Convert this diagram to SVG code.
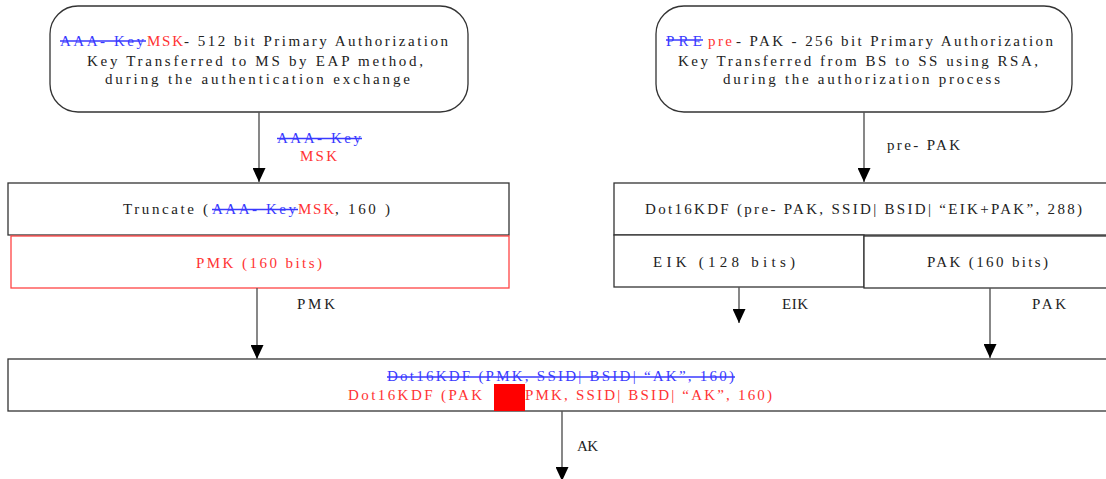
<svg xmlns="http://www.w3.org/2000/svg" width="1106" height="479" viewBox="0 0 1106 479">
  <style>
    text { font-family: "Liberation Serif", "Times New Roman", serif; font-size: 15px; }
    .k { fill: #222; }
    .r { fill: #ff3333; }
    .b { fill: #3a3aff; }
    .strike { stroke: #3a3aff; stroke-width: 1.3; }
    .box { fill: #fff; stroke: #333; stroke-width: 1.3; }
    .rbox { fill: #fff; stroke: #ff4444; stroke-width: 1.3; }
    .conn { fill: none; stroke: #555; stroke-width: 1.4; }
  </style>
  <defs>
    <marker id="arrow" markerUnits="userSpaceOnUse" markerWidth="16" markerHeight="13" refX="14" refY="6.5" orient="auto">
      <path d="M0,0 L14,6.5 L0,13 Z" fill="#000"/>
    </marker>
  </defs>
  <rect width="1106" height="479" fill="#fff"/>

  <!-- source key: MSK -->
  <g id="msk-source">
    <rect class="box" x="50" y="6" width="418" height="106" rx="28" ry="28"/>
    <text class="b" x="60" y="46" textLength="84" lengthAdjust="spacing">AAA- Key</text>
    <line class="strike" x1="60" y1="41" x2="146" y2="41"/>
    <text class="r" x="147" y="46" textLength="36" lengthAdjust="spacing">MSK</text>
    <text class="k" x="184" y="46" textLength="264" lengthAdjust="spacing">- 512 bit Primary Authorization</text>
    <text class="k" x="87" y="66" textLength="336" lengthAdjust="spacing">Key Transferred to MS by EAP method,</text>
    <text class="k" x="105" y="84" textLength="305" lengthAdjust="spacing">during the authentication exchange</text>
  </g>

  <!-- source key: pre-PAK -->
  <g id="prepak-source">
    <rect class="box" x="656" y="6" width="416" height="106" rx="28" ry="28"/>
    <text class="b" x="666" y="46" textLength="36" lengthAdjust="spacing">PRE</text>
    <line class="strike" x1="666" y1="40" x2="703" y2="40"/>
    <text class="r" x="708" y="46" textLength="24" lengthAdjust="spacing">pre</text>
    <text class="k" x="736" y="46" textLength="317" lengthAdjust="spacing">- PAK -  256 bit Primary Authorization</text>
    <text class="k" x="678" y="66" textLength="360" lengthAdjust="spacing">Key Transferred from BS to SS using RSA,</text>
    <text class="k" x="723" y="84" textLength="277" lengthAdjust="spacing">during the authorization process</text>
  </g>

  <!-- truncate step -->
  <g id="truncate">
    <rect class="box" x="8" y="183" width="501" height="52"/>
    <text class="k" x="123" y="214" textLength="85" lengthAdjust="spacing">Truncate (</text>
    <text class="b" x="212" y="214" textLength="84" lengthAdjust="spacing">AAA- Key</text>
    <line class="strike" x1="212" y1="209.5" x2="298" y2="209.5"/>
    <text class="r" x="298" y="214" textLength="36" lengthAdjust="spacing">MSK</text>
    <text class="k" x="335" y="214" textLength="55" lengthAdjust="spacing">, 160 )</text>
  </g>

  <g id="pmk">
    <rect class="rbox" x="11" y="236" width="498" height="52"/>
    <text class="r" x="196" y="268" textLength="126" lengthAdjust="spacing">PMK (160 bits)</text>
  </g>

  <!-- pre-PAK derivation -->
  <g id="kdf-eik-pak">
    <rect class="box" x="614" y="183" width="510" height="52"/>
    <text class="k" x="645" y="214" textLength="437" lengthAdjust="spacing">Dot16KDF (pre- PAK, SSID| BSID| “EIK+PAK”, 288)</text>
  </g>

  <g id="eik">
    <rect class="box" x="614" y="235" width="250" height="52"/>
    <text class="k" x="653" y="267" textLength="142" lengthAdjust="spacing">EIK (128 bits)</text>
  </g>

  <g id="pak">
    <rect class="box" x="864" y="236" width="260" height="52"/>
    <text class="k" x="927" y="267" textLength="121" lengthAdjust="spacing">PAK (160 bits)</text>
  </g>

  <!-- AK derivation -->
  <g id="kdf-ak">
    <rect class="box" x="8" y="359" width="1116" height="52"/>
    <text class="b" x="387" y="381" textLength="347" lengthAdjust="spacing">Dot16KDF (PMK, SSID| BSID| “AK”, 160)</text>
    <line class="strike" x1="387" y1="377" x2="735" y2="377"/>
    <text class="r" x="348" y="400" textLength="134" lengthAdjust="spacing">Dot16KDF (PAK</text>
    <rect x="494" y="384" width="31" height="27" fill="#ff0000"/>
    <text class="r" x="525" y="400" textLength="247" lengthAdjust="spacing">PMK, SSID| BSID| “AK”, 160)</text>
  </g>

  <!-- connectors and their labels -->
  <g id="connectors">
    <path class="conn" d="M259,112 V182" marker-end="url(#arrow)"/>
    <path class="conn" d="M864,112 V182" marker-end="url(#arrow)"/>
    <path class="conn" d="M257,288 V359" marker-end="url(#arrow)"/>
    <path class="conn" d="M739,287 V323" marker-end="url(#arrow)"/>
    <path class="conn" d="M990,288 V358" marker-end="url(#arrow)"/>
    <path class="conn" d="M562,411 V481" marker-end="url(#arrow)"/>

    <text class="b" x="277" y="143" textLength="84" lengthAdjust="spacing">AAA- Key</text>
    <line class="strike" x1="277" y1="138.5" x2="362" y2="138.5"/>
    <text class="r" x="300" y="161" textLength="37" lengthAdjust="spacing">MSK</text>
    <text class="k" x="887" y="150" textLength="73" lengthAdjust="spacing">pre- PAK</text>
    <text class="k" x="297" y="309" textLength="38" lengthAdjust="spacing">PMK</text>
    <text class="k" x="782" y="308.5" textLength="26" lengthAdjust="spacing">EIK</text>
    <text class="k" x="1032" y="308.5" textLength="34" lengthAdjust="spacing">PAK</text>
    <text class="k" x="577" y="451" textLength="21" lengthAdjust="spacing">AK</text>
  </g>
</svg>
